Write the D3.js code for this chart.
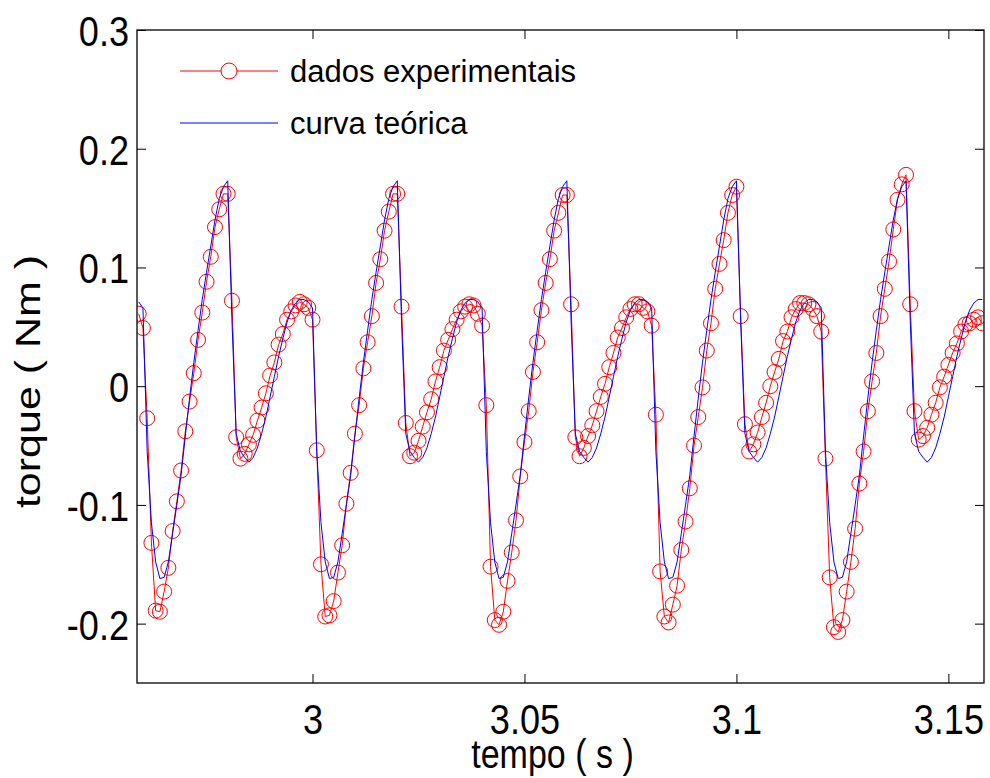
<!DOCTYPE html>
<html>
<head>
<meta charset="utf-8">
<script src="https://cdn.jsdelivr.net/npm/d3@7"></script>
<style>
  html, body { margin: 0; padding: 0; background: #fff; }
  svg { display: block; }
  text { font-family: "Liberation Sans", Arial, Helvetica, sans-serif; fill: #000; }
</style>
</head>
<body>
<svg id="chart" width="990" height="778"></svg>
<script>
// ---- data (sampled at 1 kHz) ----
const tempoInicial = 2.959;   // s, first sample
const passo = 0.001;          // s, sampling interval

// experimental torque (Nm)
const dadosExperimentais = [
  0.061, 0.049, -0.027, -0.132, -0.189, -0.190, -0.173, -0.153, -0.122, -0.097, -0.071, -0.038, -0.013, 0.011, 0.039, 0.062, 0.088, 0.109, 0.134, 0.149,
  0.162, 0.162, 0.072, -0.043, -0.061, -0.057, -0.049, -0.041, -0.029, -0.018, -0.006, 0.009, 0.020, 0.035, 0.044, 0.056, 0.063, 0.068, 0.071, 0.069,
  0.066, 0.056, -0.054, -0.150, -0.194, -0.193, -0.181, -0.157, -0.134, -0.099, -0.073, -0.040, -0.016, 0.015, 0.037, 0.059, 0.087, 0.107, 0.131, 0.147,
  0.162, 0.162, 0.067, -0.031, -0.059, -0.056, -0.046, -0.034, -0.022, -0.011, 0.004, 0.016, 0.030, 0.039, 0.048, 0.056, 0.063, 0.067, 0.069, 0.068,
  0.061, 0.051, -0.016, -0.152, -0.197, -0.201, -0.190, -0.164, -0.140, -0.113, -0.076, -0.047, -0.021, 0.012, 0.037, 0.064, 0.087, 0.107, 0.131, 0.146,
  0.161, 0.161, 0.069, -0.043, -0.059, -0.052, -0.042, -0.033, -0.021, -0.009, 0.002, 0.016, 0.028, 0.041, 0.049, 0.058, 0.065, 0.069, 0.069, 0.066,
  0.063, 0.051, -0.024, -0.156, -0.194, -0.199, -0.184, -0.168, -0.138, -0.114, -0.086, -0.050, -0.026, -0.001, 0.030, 0.053, 0.082, 0.103, 0.123, 0.146,
  0.161, 0.168, 0.059, -0.032, -0.055, -0.049, -0.039, -0.026, -0.014, 0.000, 0.012, 0.023, 0.038, 0.046, 0.058, 0.065, 0.070, 0.070, 0.069, 0.065,
  0.059, 0.046, -0.061, -0.161, -0.203, -0.207, -0.197, -0.173, -0.148, -0.120, -0.082, -0.055, -0.021, 0.004, 0.028, 0.059, 0.082, 0.105, 0.132, 0.157,
  0.170, 0.178, 0.069, -0.021, -0.045, -0.042, -0.035, -0.024, -0.014, -0.001, 0.008, 0.018, 0.028, 0.036, 0.046, 0.052, 0.053, 0.056, 0.058, 0.053
];

// theoretical torque (Nm)
const curvaTeorica = [
  0.071, 0.066, -0.055, -0.115, -0.148, -0.162, -0.161, -0.148, -0.124, -0.100, -0.075, -0.042, -0.010, 0.020, 0.047, 0.073, 0.096, 0.118, 0.140, 0.158,
  0.168, 0.173, 0.055, -0.040, -0.055, -0.060, -0.064, -0.060, -0.052, -0.040, -0.026, -0.009, 0.008, 0.025, 0.040, 0.054, 0.064, 0.070, 0.073, 0.073,
  0.071, 0.066, -0.055, -0.115, -0.148, -0.162, -0.161, -0.148, -0.124, -0.100, -0.075, -0.042, -0.010, 0.020, 0.047, 0.073, 0.096, 0.118, 0.140, 0.158,
  0.168, 0.173, 0.055, -0.040, -0.055, -0.060, -0.064, -0.060, -0.052, -0.040, -0.026, -0.009, 0.008, 0.025, 0.040, 0.054, 0.064, 0.070, 0.073, 0.073,
  0.071, 0.066, -0.055, -0.115, -0.148, -0.162, -0.161, -0.148, -0.124, -0.100, -0.075, -0.042, -0.010, 0.020, 0.047, 0.073, 0.096, 0.118, 0.140, 0.158,
  0.168, 0.173, 0.055, -0.040, -0.055, -0.060, -0.064, -0.060, -0.052, -0.040, -0.026, -0.009, 0.008, 0.025, 0.040, 0.054, 0.064, 0.070, 0.073, 0.073,
  0.071, 0.066, -0.055, -0.115, -0.148, -0.162, -0.161, -0.148, -0.124, -0.100, -0.075, -0.042, -0.010, 0.020, 0.047, 0.073, 0.096, 0.118, 0.140, 0.158,
  0.168, 0.173, 0.055, -0.040, -0.055, -0.060, -0.064, -0.060, -0.052, -0.040, -0.026, -0.009, 0.008, 0.025, 0.040, 0.054, 0.064, 0.070, 0.073, 0.073,
  0.071, 0.066, -0.055, -0.115, -0.148, -0.162, -0.161, -0.148, -0.124, -0.100, -0.075, -0.042, -0.010, 0.020, 0.047, 0.073, 0.096, 0.118, 0.140, 0.158,
  0.168, 0.173, 0.055, -0.040, -0.055, -0.060, -0.064, -0.060, -0.052, -0.040, -0.026, -0.009, 0.008, 0.025, 0.040, 0.054, 0.064, 0.070, 0.073, 0.073
];

const xTicks = [3, 3.05, 3.1, 3.15];
const xTickLabels = ["3", "3.05", "3.1", "3.15"];
const yTicks = [-0.2, -0.1, 0, 0.1, 0.2, 0.3];
const yTickLabels = ["-0.2", "-0.1", "0", "0.1", "0.2", "0.3"];
const xDomain = [2.9586, 3.1584];
const yDomain = [-0.25, 0.3];
const legendLabels = ["dados experimentais", "curva teórica"];
const axisLabels = { x: "tempo ( s )", y: "torque ( Nm )" };

// ---- layout ----
const L = 137, R = 984, T = 30, B = 683;
const svg = d3.select("#chart");
svg.append("rect").attr("width", 990).attr("height", 778).attr("fill", "#fff");

const x = d3.scaleLinear().domain(xDomain).range([L, R]);
const y = d3.scaleLinear().domain(yDomain).range([B, T]);

const tempo = dadosExperimentais.map((_, i) => +(tempoInicial + i * passo).toFixed(4));
const expPts = tempo.map((t, i) => ({ t, v: dadosExperimentais[i] }));
const teoPts = tempo.map((t, i) => ({ t, v: curvaTeorica[i] }));

svg.append("defs").append("clipPath").attr("id", "clip")
  .append("rect").attr("x", L).attr("y", T).attr("width", R - L).attr("height", B - T);

const plot = svg.append("g").attr("clip-path", "url(#clip)");
const line = d3.line().x(d => x(d.t)).y(d => y(d.v));

plot.append("path").datum(expPts).attr("d", line)
  .attr("fill", "none").attr("stroke", "#ff0000").attr("stroke-width", 1);
plot.append("g").selectAll("circle").data(expPts).join("circle")
  .attr("cx", d => x(d.t)).attr("cy", d => y(d.v)).attr("r", 7.5)
  .attr("fill", "none").attr("stroke", "#ff0000").attr("stroke-width", 1);
plot.append("path").datum(teoPts).attr("d", line)
  .attr("fill", "none").attr("stroke", "#0000ff").attr("stroke-width", 1);

// ---- axes ----
const fsTick = 43, sxTick = 0.84;   // tall, narrow tick lettering as in the reference
const fsLab = 41, sxLab = 0.83;
const fsLeg = 31;

const xAxisB = d3.axisBottom(x).tickValues(xTicks).tickSizeInner(-9).tickSizeOuter(0)
  .tickFormat((d, i) => xTickLabels[i]);
const gxb = svg.append("g").attr("transform", `translate(0,${B})`).call(xAxisB);
gxb.selectAll("text").attr("font-size", fsTick).attr("dy", null).attr("y", 51)
  .attr("transform", `scale(${sxTick},1)`);

const xAxisT = d3.axisTop(x).tickValues(xTicks).tickSizeInner(-9).tickSizeOuter(0).tickFormat("");
svg.append("g").attr("transform", `translate(0,${T})`).call(xAxisT);

const yAxisL = d3.axisLeft(y).tickValues(yTicks).tickSizeInner(-9).tickSizeOuter(0)
  .tickFormat((d, i) => yTickLabels[i]);
const gyl = svg.append("g").attr("transform", `translate(${L},0)`).call(yAxisL);
gyl.selectAll("text").attr("font-size", fsTick).attr("x", -8 / sxTick).attr("dy", "0.36em")
  .attr("transform", `scale(${sxTick},1)`);

const yAxisR = d3.axisRight(y).tickValues(yTicks).tickSizeInner(-9).tickSizeOuter(0).tickFormat("");
svg.append("g").attr("transform", `translate(${R},0)`).call(yAxisR);

svg.selectAll(".domain").remove();
svg.selectAll(".tick line").attr("stroke", "#000").attr("stroke-width", 1);
svg.selectAll(".tick text").attr("font-family", "Liberation Sans, Arial, sans-serif").attr("fill", "#000");

// box
svg.append("rect").attr("x", L).attr("y", T).attr("width", R - L).attr("height", B - T)
  .attr("fill", "none").attr("stroke", "#000").attr("stroke-width", 1.3);

// axis labels
svg.append("text").attr("transform", `translate(${(L + R) / 2 - 8},768) scale(${sxLab},1)`)
  .attr("text-anchor", "middle").attr("font-size", fsLab).text(axisLabels.x);
svg.append("text").attr("transform", `translate(40,${(T + B) / 2 + 25}) rotate(-90) scale(1,${sxLab})`)
  .attr("text-anchor", "middle").attr("font-size", 43).text(axisLabels.y);

// ---- legend ----
const legend = svg.append("g");
const legY = [71, 123];
const lx0 = 180, lx1 = 278;
legend.append("line").attr("x1", lx0).attr("x2", lx1).attr("y1", legY[0]).attr("y2", legY[0])
  .attr("stroke", "#ff0000").attr("stroke-width", 1);
legend.append("circle").attr("cx", (lx0 + lx1) / 2).attr("cy", legY[0]).attr("r", 8)
  .attr("fill", "#fff").attr("stroke", "#ff0000").attr("stroke-width", 1);
legend.append("line").attr("x1", lx0).attr("x2", lx1).attr("y1", legY[1]).attr("y2", legY[1])
  .attr("stroke", "#0000ff").attr("stroke-width", 1);
legendLabels.forEach((lab, i) => {
  legend.append("text").attr("x", 290).attr("y", legY[i]).attr("dy", "0.35em")
    .attr("font-size", fsLeg).text(lab);
});
</script>
</body>
</html>
